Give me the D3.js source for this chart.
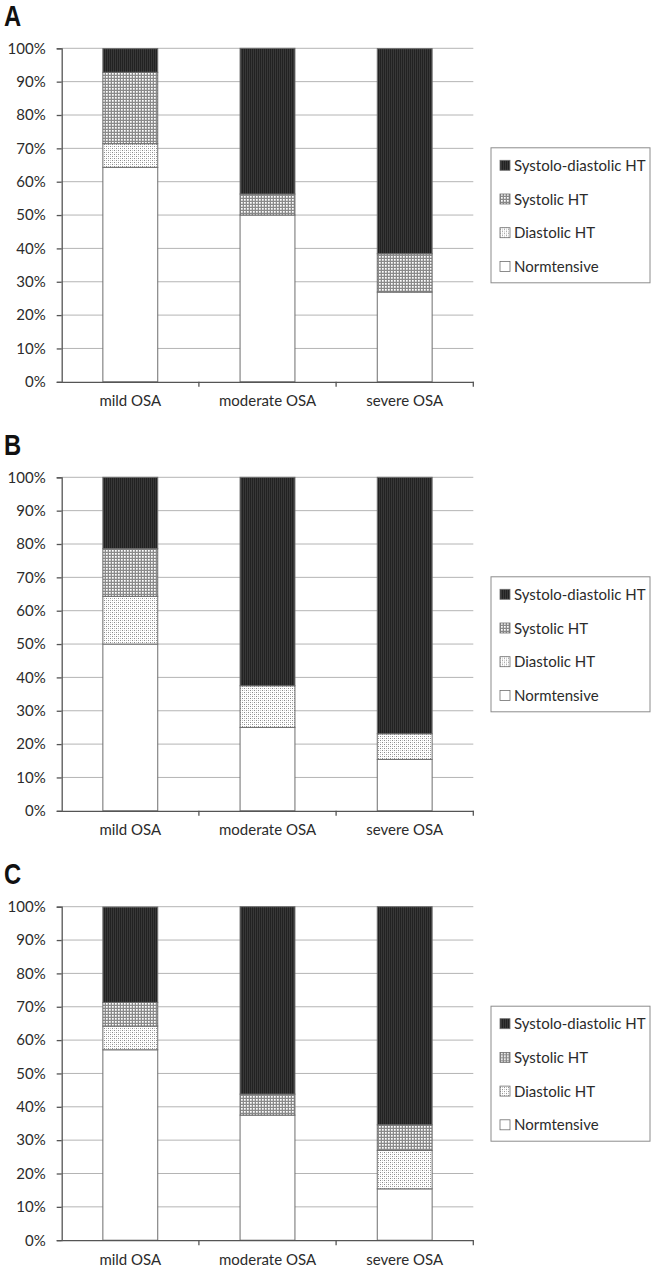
<!DOCTYPE html>
<html>
<head>
<meta charset="utf-8">
<script src="https://cdn.jsdelivr.net/npm/d3@7"></script>
<style>
  html, body { margin: 0; padding: 0; background: #fff; }
  svg { display: block; }
</style>
</head>
<body>
<svg id="chart" width="658" height="1269"></svg>
<script>
// ---- data ----
const categories = ["mild OSA", "moderate OSA", "severe OSA"];
const seriesNames = ["Normtensive", "Diastolic HT", "Systolic HT", "Systolo-diastolic HT"];
const legendOrder = ["Systolo-diastolic HT", "Systolic HT", "Diastolic HT", "Normtensive"];
const panelLabels = ["A", "B", "C"];
const yTickValues = [0, 10, 20, 30, 40, 50, 60, 70, 80, 90, 100];

// Panel A
const normA = [64.3, 50.0, 26.9];
const diaA  = [7.1, 0, 0];
const sysA  = [21.4, 6.3, 11.5];
const sdA   = [7.1, 43.7, 61.5];
// Panel B
const normB = [50.0, 25.0, 15.4];
const diaB  = [14.3, 12.5, 7.7];
const sysB  = [14.3, 0, 0];
const sdB   = [21.4, 62.5, 76.9];
// Panel C
const normC = [57.1, 37.5, 15.4];
const diaC  = [7.1, 0, 11.5];
const sysC  = [7.1, 6.3, 7.7];
const sdC   = [28.6, 56.2, 65.4];

const panelSeries = [
  [normA, diaA, sysA, sdA],
  [normB, diaB, sysB, sdB],
  [normC, diaC, sysC, sdC]
];

// ---- layout ----
const svg = d3.select("#chart");
const panelTops = [48.3, 477.3, 906.7];
const plotH = 333.5;
const plotLeft = 61.7, plotRight = 473.3;
const textColor = "#2b2b2b";
const font = "Lato, 'Open Sans', sans-serif";

// ---- patterns ----
const defs = svg.append("defs");
// Systolo-diastolic: dark with fine vertical stripes
const pSD = defs.append("pattern").attr("id", "pSD").attr("patternUnits", "userSpaceOnUse")
  .attr("width", 2).attr("height", 2);
pSD.append("rect").attr("width", 2).attr("height", 2).attr("fill", "#222222");
pSD.append("rect").attr("x", 1).attr("width", 1).attr("height", 2).attr("fill", "#383838");
// Systolic: small checker
const pSys = defs.append("pattern").attr("id", "pSys").attr("patternUnits", "userSpaceOnUse")
  .attr("width", 3).attr("height", 3);
pSys.append("rect").attr("width", 3).attr("height", 3).attr("fill", "#8a8a8a");
pSys.append("rect").attr("x", 1).attr("y", 1).attr("width", 1.7).attr("height", 1.7).attr("fill", "#ffffff");
// Diastolic: sparse dots
const pDia = defs.append("pattern").attr("id", "pDia").attr("patternUnits", "userSpaceOnUse")
  .attr("width", 4).attr("height", 4);
pDia.append("rect").attr("width", 4).attr("height", 4).attr("fill", "#ffffff");
pDia.append("rect").attr("x", 0).attr("y", 0).attr("width", 1).attr("height", 1).attr("fill", "#8a8a8a");
pDia.append("rect").attr("x", 2).attr("y", 2).attr("width", 1).attr("height", 1).attr("fill", "#8a8a8a");
pDia.append("rect").attr("x", 2).attr("y", 0).attr("width", 1).attr("height", 1).attr("fill", "#c4c4c4");
pDia.append("rect").attr("x", 0).attr("y", 2).attr("width", 1).attr("height", 1).attr("fill", "#c4c4c4");

const fills = {
  "Normtensive": "#ffffff",
  "Diastolic HT": "url(#pDia)",
  "Systolic HT": "url(#pSys)",
  "Systolo-diastolic HT": "url(#pSD)"
};

const x = d3.scaleBand().domain(categories).range([plotLeft, plotRight]).paddingInner(0.6).paddingOuter(0.3);

panelSeries.forEach((vals, pi) => {
  const top = panelTops[pi];
  const g = svg.append("g");
  const y = d3.scaleLinear().domain([0, 100]).range([top + plotH, top]);

  // panel letter
  g.append("text")
    .attr("transform", `translate(4,${top - 22.5}) scale(0.82,1)`)
    .attr("font-family", "'Liberation Sans', Arial, sans-serif")
    .attr("font-weight", "bold").attr("font-size", 29)
    .attr("fill", "#111")
    .text(panelLabels[pi]);

  // gridlines
  g.append("g").selectAll("line").data(yTickValues.filter(d => d > 0)).join("line")
    .attr("x1", plotLeft).attr("x2", plotRight)
    .attr("y1", d => y(d)).attr("y2", d => y(d))
    .attr("stroke", "#b4b4b4").attr("stroke-width", 1);

  // stacked bars
  const rows = categories.map((c, i) => {
    const r = { cat: c };
    seriesNames.forEach((s, si) => { r[s] = vals[si][i]; });
    return r;
  });
  const stacked = d3.stack().keys(seriesNames)(rows);
  stacked.forEach(layer => {
    g.append("g").selectAll("rect").data(layer.filter(d => d[1] - d[0] > 0)).join("rect")
      .attr("x", d => x(d.data.cat))
      .attr("width", x.bandwidth())
      .attr("y", d => y(Math.min(d[1], 100)))
      .attr("height", d => y(d[0]) - y(Math.min(d[1], 100)))
      .attr("fill", fills[layer.key])
      .attr("stroke", "#6e6e6e").attr("stroke-width", 1);
  });

  // y axis
  const yAxis = d3.axisLeft(y).tickValues(yTickValues).tickFormat(d => d + "%").tickSize(5).tickPadding(11);
  const ya = g.append("g").attr("transform", `translate(${plotLeft},0)`).call(yAxis);
  ya.select(".domain").attr("stroke", "#555").attr("stroke-width", 1.3);
  ya.selectAll(".tick line").attr("stroke", "#555").attr("stroke-width", 1.3);
  ya.selectAll("text").attr("font-family", font).attr("font-size", 15).attr("fill", textColor);

  // x axis
  const xAxis = d3.axisBottom(x).tickSize(0).tickPadding(14);
  const xa = g.append("g").attr("transform", `translate(0,${top + plotH})`).call(xAxis);
  xa.select(".domain").attr("stroke", "#555").attr("stroke-width", 1.3);
  xa.selectAll("text").attr("font-family", font).attr("font-size", 15).attr("fill", textColor);
  // category separator ticks
  const boundaries = categories.map(c => x(c) + x.bandwidth() + x.step() * 0.3);
  g.append("g").selectAll("line").data(boundaries).join("line")
    .attr("x1", d => d).attr("x2", d => d)
    .attr("y1", top + plotH).attr("y2", top + plotH + 5)
    .attr("stroke", "#555").attr("stroke-width", 1.3);

  // legend
  const lx = 491, ly = top + 99.5, lw = 159, lh = 135;
  const lg = g.append("g");
  lg.append("rect").attr("x", lx).attr("y", ly).attr("width", lw).attr("height", lh)
    .attr("fill", "#fff").attr("stroke", "#8c8c8c").attr("stroke-width", 1);
  const item = lg.selectAll("g.item").data(legendOrder).join("g").attr("class", "item")
    .attr("transform", (d, i) => `translate(${lx + 9},${ly + 17.5 + i * 33.7})`);
  item.append("rect").attr("x", 0).attr("y", -5).attr("width", 10).attr("height", 10)
    .attr("fill", d => fills[d]).attr("stroke", "#6e6e6e").attr("stroke-width", 0.8);
  item.append("text").attr("x", 14).attr("y", 5.5)
    .attr("font-family", font).attr("font-size", 15).attr("fill", textColor)
    .text(d => d);
});
</script>
</body>
</html>
